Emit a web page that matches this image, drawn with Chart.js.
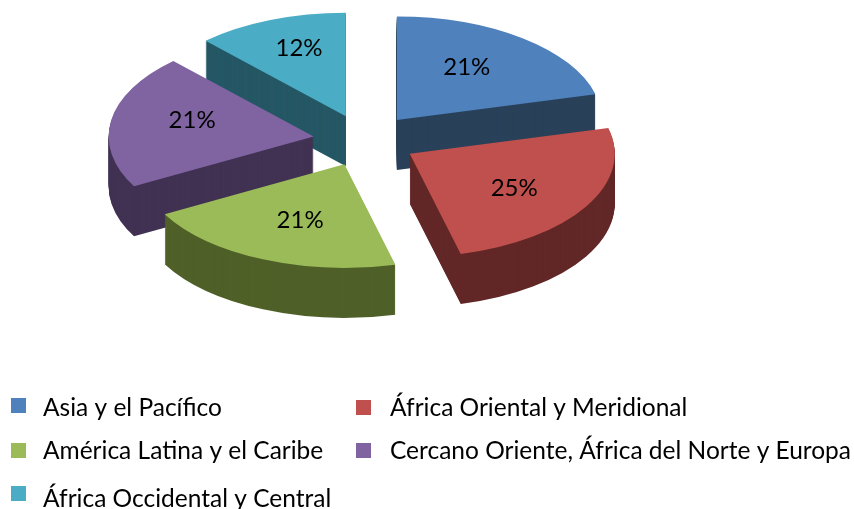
<!DOCTYPE html>
<html>
<head>
<meta charset="utf-8">
<style>html,body{margin:0;padding:0;background:#fff}#w{position:relative;width:854px;height:509px}</style>
<script src="https://cdn.jsdelivr.net/npm/chart.js@4"></script>
</head>
<body>
<div id="w"><canvas id="c" width="854" height="509"></canvas></div>
<script>
const categories = ["Asia y el Pacífico","África Oriental y Meridional","América Latina y el Caribe","Cercano Oriente, África del Norte y Europa","África Occidental y Central"];
const shares = [21,25,21,21,12];
const topColors = ["#4f81bd","#c0504d","#9bbb59","#8064a2","#4bacc6"];
const wallColors = ["#294159","#622727","#4f6028","#413253","#255765"];

const tilt = 0.505, depth = 50, explodeX = 52, explodeY = 26, cx = 365, cy = 140.5;

const pie3d = {
  id:'pie3d',
  beforeDatasetsDraw(chart){
    const ctx = chart.ctx, meta = chart.getDatasetMeta(0), area = chart.chartArea;
    const ox = (area.left+area.right)/2, oy = (area.top+area.bottom)/2;
    const midOf = (arc) => (arc.startAngle+arc.endAngle)/2;
    const order = meta.data.map((a,i)=>i).sort((a,b)=>Math.sin(midOf(meta.data[a]))-Math.sin(midOf(meta.data[b])));
    const project = (arc,dy) => {
      const m = midOf(arc);
      ctx.translate(cx+Math.cos(m)*explodeX, cy+Math.sin(m)*explodeY+dy);
      ctx.scale(1,tilt);
      ctx.translate(-ox,-oy);
    };
    order.forEach(i=>{
      const arc = meta.data[i], base = arc.options;
      arc.options = Object.create(base,{backgroundColor:{value:wallColors[i]}});
      for(let d=depth;d>0;d--){
        ctx.save(); project(arc,d); arc.draw(ctx,area); ctx.restore();
      }
      arc.options = base;
      ctx.save(); project(arc,0); arc.draw(ctx,area); ctx.restore();
    });
    return false;
  },
  afterDraw(chart){
    const ctx = chart.ctx, meta = chart.getDatasetMeta(0);
    ctx.save();
    ctx.fillStyle='#000'; ctx.textAlign='center'; ctx.textBaseline='middle';
    ctx.font='24px Lato';
    const nudge=[[-3,1],[2,1],[3,-1],[-4,-7],[-3,-4]];
    meta.data.forEach((arc,i)=>{
      const mid=(arc.startAngle+arc.endAngle)/2, c=Math.cos(mid), s=Math.sin(mid);
      const lx = cx+c*explodeX+c*119+nudge[i][0];
      const ly = cy+s*explodeY+s*(130-10*s)*tilt+nudge[i][1];
      ctx.fillText(shares[i]+'%', lx, ly+1);
    });
    ctx.font='24.5px Lato'; ctx.textAlign='left'; ctx.textBaseline='alphabetic';
    const cols=[11,356], rows=[[0,0,398,416],[1,1,400,416],[2,0,443,459],[3,1,443,459],[4,0,486,507]];
    rows.forEach(([i,col,boxY,base])=>{
      ctx.fillStyle=topColors[i];
      ctx.fillRect(cols[col],boxY,15,15);
      ctx.fillStyle='#000';
      ctx.fillText(categories[i],cols[col]+(col?34:32),base);
    });
    ctx.restore();
  }
};

new Chart(document.getElementById('c'),{
  type:'pie',
  data:{labels:categories,datasets:[{data:shares,backgroundColor:topColors,borderWidth:0,hoverOffset:0}]},
  options:{
    responsive:false,animation:false,radius:205,
    events:[],
    layout:{padding:{left:0,right:120,top:0,bottom:0}},
    plugins:{legend:{display:false},tooltip:{enabled:false}}
  },
  plugins:[pie3d]
});
</script>
</body>
</html>
